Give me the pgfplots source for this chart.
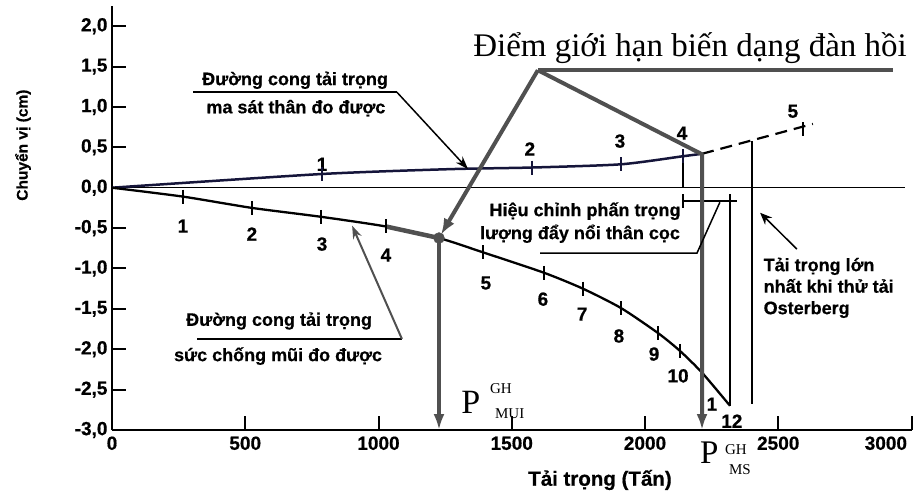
\documentclass[border=0pt]{standalone}
\usepackage{pgfplots}
\pgfplotsset{compat=1.18}
\usetikzlibrary{arrows.meta}
\usepackage{fontspec}
\setmainfont{Liberation Sans}[BoldFeatures={FakeBold=0.6}]
\newfontfamily\serif{Liberation Serif}
\definecolor{gr}{HTML}{505050}
\definecolor{navy}{HTML}{15153A}
\newcommand{\lab}{\fontsize{18}{21.5}\selectfont\bfseries}
\newcommand{\num}{\fontsize{19}{21.5}\selectfont\bfseries}
\begin{document}
\begin{tikzpicture}
\path[use as bounding box] (-112pt,-66pt) rectangle (802pt,430pt);
\begin{axis}[
  at={(0,0)}, anchor=south west,
  scale only axis, width=799.5pt, height=424pt,
  xmin=0, xmax=3000, ymin=-3, ymax=2.25,
  axis lines*=left, axis line style={line width=2.2pt,-},
  clip=false,
  xtick={0,500,1000,1500,2000,2500,3000},
  xticklabels={0,500,1000,1500,2000,2500,{\hbox to 0pt{\hss 3000\kern4.5pt}}},
  ytick={-3,-2.5,-2,-1.5,-1,-0.5,0,0.5,1,1.5,2},
  yticklabels={{-3,0},{-2,5},{-2,0},{-1,5},{-1,0},{-0,5},{0,0},{0,5},{1,0},{1,5},{2,0}},
  tick align=inside, major tick length=14pt,
  tick style={line width=2pt, black},
  ticklabel style={font=\num},
  xticklabel style={yshift=-3pt},
  yticklabel style={xshift=-1pt},
]
% zero line
\addplot[line width=1.4pt, black] coordinates {(0,0) (2976,0)};
% friction curve (upper)
\addplot[line width=2.5pt, navy, smooth, tension=0.4] coordinates {(0,0) (788,0.17) (1268,0.23) (1576,0.25) (1910,0.29) (2143,0.39) (2214,0.42)};
\addplot[only marks, mark=|, mark size=7pt, mark options={line width=2pt, navy}] coordinates {(788,0.17) (1576,0.25) (1910,0.29) (2143,0.39)};
\addplot[line width=2.2pt, black, dash pattern=on 12pt off 7pt] coordinates {(2214,0.42) (2630,0.79)};
\addplot[only marks, mark=|, mark size=7pt, mark options={line width=2pt, black}] coordinates {(2593,0.725)};
% vertical at friction point 4 and correction line
\addplot[line width=2pt, black] coordinates {(2143,0.39) (2143,0)};
\addplot[line width=2pt, black] coordinates {(2143,-0.166) (2345,-0.166)};
\addplot[only marks, mark=|, mark size=7pt, mark options={line width=2pt, black}] coordinates {(2143,-0.166) (2319,-0.166)};
% end-bearing curve (lower)
\addplot[line width=2.3pt, black, smooth, tension=0.4] coordinates {(0,0) (266,-0.11) (525,-0.25) (784,-0.36) (1028,-0.48) (1227,-0.623) (1392,-0.80) (1621,-1.053) (1767,-1.25) (1910,-1.49) (2049,-1.80) (2131,-2.02) (2214,-2.29) (2319,-2.70)};
\addplot[only marks, mark=|, mark size=7pt, mark options={line width=2pt, black}] coordinates {(266,-0.11) (525,-0.25) (784,-0.36) (1028,-0.48) (1392,-0.80) (1621,-1.053) (1767,-1.25) (1910,-1.49) (2049,-1.80) (2131,-2.02)};
\addplot[line width=2pt, black] coordinates {(2319,-2.70) (2319,-0.166)};
% Osterberg max load line
\addplot[line width=2pt, black] coordinates {(2401,0.58) (2401,-2.68)};
% grey overlay and elastic limit point
\addplot[gr, line width=4.5pt] coordinates {(1028,-0.48) (1227,-0.623)};
\addplot[only marks, mark=*, mark size=5.5pt, gr] coordinates {(1227,-0.623)};

% grey annotation
\draw[gr, line width=4.5pt] (axis cs:1598,1.455) -- (axis cs:2931,1.455);
\draw[gr, line width=4pt, shorten >=4pt, -{Latex[length=16pt,width=12pt]}] (axis cs:1598,1.455) -- (axis cs:1227,-0.623);
\draw[gr, line width=4pt, line join=round, -{Latex[length=16pt,width=11pt]}] (axis cs:1598,1.455) -- (axis cs:2214,0.414) -- (axis cs:2214,-3);
\draw[gr, line width=3.5pt, -{Latex[length=16pt,width=11pt]}] (axis cs:1227,-0.623) -- (axis cs:1227,-3);
\node[font=\serif\fontsize{33}{36}\selectfont, anchor=base] at (axis cs:2169,1.629) {Điểm giới hạn biến dạng đàn hồi};

% friction annotation
\node[font=\lab] at (axis cs:687,1.33) {Đường cong tải trọng};
\node[font=\lab] at (axis cs:690,0.985) {ma sát thân đo được};
\draw[line width=1.5pt] (axis cs:304,1.183) -- (axis cs:1069,1.183);
\draw[line width=1.5pt, -{Stealth[length=13pt,width=9pt]}] (axis cs:1069,1.183) -- (axis cs:1336,0.23);

% end-bearing annotation
\node[font=\lab] at (axis cs:627,-1.65) {Đường cong tải trọng};
\node[font=\lab] at (axis cs:623,-2.085) {sức chống mũi đo được};
\draw[line width=1.5pt] (axis cs:319,-1.873) -- (axis cs:1088,-1.873);
\draw[gr, line width=2pt, -{Stealth[length=13pt,width=9pt]}] (axis cs:1088,-1.873) -- (axis cs:901,-0.47);

% correction annotation
\node[font=\lab] at (axis cs:1775,-0.29) {Hiệu chỉnh phấn trọng};
\node[font=\lab] at (axis cs:1756,-0.57) {lượng đẩy nổi thân cọc};
\draw[line width=1.5pt] (axis cs:1606,-0.81) -- (axis cs:2195,-0.81) -- (axis cs:2281,-0.18);

% Osterberg annotation
\node[font=\lab, align=left, anchor=west] at (axis cs:2432,-1.24) {Tải trọng lớn\\nhất khi thử tải\\Osterberg};
\draw[line width=1.5pt, -{Stealth[length=12pt,width=10pt]}] (axis cs:2570,-0.76) -- (axis cs:2432,-0.31);

% point numbers (upper)
\node[font=\num] at (axis cs:788,0.29) {1};
\node[font=\num] at (axis cs:1568,0.48) {2};
\node[font=\num] at (axis cs:1906,0.577) {3};
\node[font=\num] at (axis cs:2139,0.676) {4};
\node[font=\num] at (axis cs:2555,0.947) {5};
% point numbers (lower)
\node[font=\num] at (axis cs:266,-0.475) {1};
\node[font=\num] at (axis cs:525,-0.574) {2};
\node[font=\num] at (axis cs:788,-0.698) {3};
\node[font=\num] at (axis cs:1028,-0.834) {4};
\node[font=\num] at (axis cs:1403,-1.18) {5};
\node[font=\num] at (axis cs:1617,-1.38) {6};
\node[font=\num] at (axis cs:1764,-1.565) {7};
\node[font=\num] at (axis cs:1902,-1.836) {8};
\node[font=\num] at (axis cs:2034,-2.06) {9};
\node[font=\num] at (axis cs:2124,-2.33) {10};
\node[font=\num] at (axis cs:2251,-2.68) {1};
\node[font=\num] at (axis cs:2326,-2.89) {12};

% P labels
\node[font=\serif\fontsize{34}{36}\selectfont, anchor=base west, inner sep=0pt] at (axis cs:1310,-2.80) {P};
\node[font=\serif\fontsize{15}{17}\selectfont, anchor=base west, inner sep=0pt] at (axis cs:1418,-2.55) {GH};
\node[font=\serif\fontsize{15}{17}\selectfont, anchor=base west, inner sep=0pt] at (axis cs:1437,-2.86) {MUI};
\node[font=\serif\fontsize{33}{36}\selectfont, anchor=base west, inner sep=0pt] at (axis cs:2206,-3.42) {P};
\node[font=\serif\fontsize{15}{17}\selectfont, anchor=base west, inner sep=0pt] at (axis cs:2300,-3.30) {GH};
\node[font=\serif\fontsize{15}{17}\selectfont, anchor=base west, inner sep=0pt] at (axis cs:2315,-3.55) {MS};

% axis labels
\node[font=\fontsize{20.5}{24}\selectfont\bfseries] at ([yshift=-50pt]axis cs:1831,-3) {Tải trọng (Tấn)};
\node[font=\fontsize{15.5}{18}\selectfont\bfseries, rotate=90] at ([xshift=-89pt]axis cs:0,0.527) {Chuyển vị (cm)};
\end{axis}
\end{tikzpicture}
\end{document}
